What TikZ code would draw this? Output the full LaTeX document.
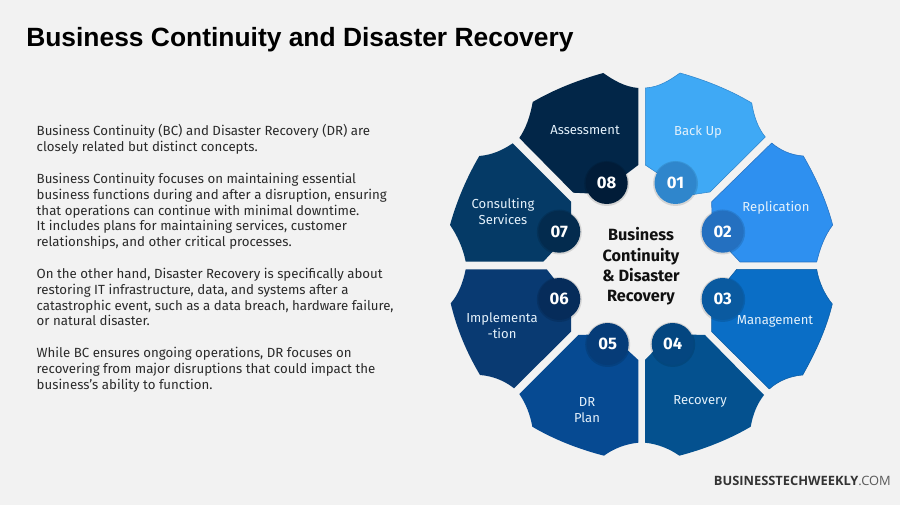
\documentclass[tikz,border=0pt]{standalone}
\usepackage{fontspec}
\setmainfont{Fira Sans}
\newfontfamily\titlefont{Liberation Sans}
\newfontfamily\brandfont{Open Sans}
\usepackage{xcolor}
\usetikzlibrary{calc}
\definecolor{bg}{HTML}{F2F2F2}
\definecolor{ink}{HTML}{111111}
\definecolor{bodyink}{HTML}{2A2A2A}
\definecolor{brandink}{HTML}{333333}
\definecolor{brandlight}{HTML}{5A5A5A}
\definecolor{labelink}{HTML}{E4F1FB}
\definecolor{petala}{HTML}{3FA9F5}
\definecolor{petalb}{HTML}{2E90F0}
\definecolor{petalc}{HTML}{0A6EC6}
\definecolor{petald}{HTML}{04518F}
\definecolor{petale}{HTML}{064A92}
\definecolor{petalf}{HTML}{093A72}
\definecolor{petalg}{HTML}{053A66}
\definecolor{petalh}{HTML}{022648}
\definecolor{dota}{HTML}{2F86CC}
\definecolor{dotb}{HTML}{2470C0}
\definecolor{dotc}{HTML}{0A5AA0}
\definecolor{dotd}{HTML}{044680}
\definecolor{dote}{HTML}{063C78}
\definecolor{dotf}{HTML}{062C5A}
\definecolor{dotg}{HTML}{032B4E}
\definecolor{doth}{HTML}{011C38}
\tikzset{
  petal/.style={line width=0.4pt, line join=round},
  dot/.style={circle, minimum size=42*0.75pt, inner sep=0pt, text=white, font=\fontsize{12.5}{14}\selectfont\bfseries},
  halo/.style={circle, fill=black, opacity=0.12, minimum size=45*0.75pt, inner sep=0pt},
  lab/.style={text=labelink, align=center, font=\fontsize{9.8}{11.8}\selectfont},
  hub/.style={text=ink, align=center, font=\fontsize{12.2}{15.35}\selectfont\bfseries},
  para/.style={text=bodyink, align=left, anchor=north west, font=\fontsize{9.95}{11.87}\selectfont},
}
\begin{document}
\begin{tikzpicture}[x=0.75pt,y=-0.75pt]
  \fill[bg] (0,0) rectangle (900,505);
  \useasboundingbox (0,0) rectangle (900,505);
  \node[text=black, anchor=west, inner sep=0pt, font=\titlefont\fontsize{19.8}{24}\selectfont\bfseries] (title) at (26,39.5) {Business Continuity and Disaster Recovery};
  \node[para] (intro) at (32,120) {Business Continuity (BC) and Disaster Recovery (DR) are\\closely related but distinct concepts.\\[\baselineskip]
    Business Continuity focuses on maintaining essential\\business functions during and after a disruption, ensuring\\that operations can continue with minimal downtime.\\It includes plans for maintaining services, customer\\relationships, and other critical processes.\\[\baselineskip]
    On the other hand, Disaster Recovery is specifically about\\restoring IT infrastructure, data, and systems after a\\catastrophic event, such as a data breach, hardware failure,\\or natural disaster.\\[\baselineskip]
    While BC ensures ongoing operations, DR focuses on\\recovering from major disruptions that could impact the\\business's ability to function.};
  % petals, clockwise from the top
  \draw[petal, fill=petala, draw=dota] (645.3,88) .. controls (660,87) and (670,80) .. (680,73) .. controls (705,80) and (730,90) .. (751.7,103) .. controls (754,117) and (758,128) .. (765.3,137) -- (710,192) -- (690,195) -- (645.3,165) -- cycle;
  \draw[petal, fill=petalb, draw=dotb] (771.7,143) .. controls (780,150) and (790,155) .. (803.3,156) .. controls (816,178) and (826,200) .. (832.7,225) .. controls (825,235) and (820,248) .. (816.7,262) -- (740,262) -- (712,232) -- (711.7,201.7) -- cycle;
  \draw[petal, fill=petalc, draw=dotc] (736.7,269.3) -- (816.7,269.3) .. controls (819,283) and (825,295) .. (832.3,304) .. controls (826,330) and (815,353) .. (802.7,375) .. controls (790,376) and (778,381) .. (769.3,389) -- (711.7,331.7) -- (711.7,300) -- cycle;
  \fill[petal, petald] (645,360) -- (645,442.7) .. controls (658,444) and (670,449) .. (679.3,455.7) .. controls (705,449) and (730,439) .. (750.7,426.7) .. controls (753,414) and (757,404) .. (764,395) -- (705,335) -- (670,334) -- cycle;
  \fill[petal, petale] (638.3,360) -- (638.3,442.7) .. controls (625,444) and (613,449) .. (604,455.7) .. controls (578,449) and (553,439) .. (532.3,426.7) .. controls (530,414) and (526,404) .. (519.3,394) -- (578.3,335) -- (610,334) -- cycle;
  \fill[petal, petalf] (465.7,269.3) -- (546.7,269.3) -- (571,300) -- (571,331.7) -- (514,388.3) .. controls (505,381) and (493,376) .. (480,375) .. controls (467,353) and (457,330) .. (450.7,303.3) .. controls (458,295) and (463,283) .. (465.7,269.3) -- cycle;
  \fill[petal, petalg] (512.7,143.3) -- (571,201.7) -- (571,232) -- (543.3,261.7) -- (465.7,261.7) .. controls (463,248) and (457,235) .. (450,225) .. controls (457,200) and (467,177) .. (479.3,156) .. controls (492,155) and (503,150) .. (512.7,143.3) -- cycle;
  \fill[petal, petalh] (638.3,88) .. controls (625,87) and (613,80) .. (603.3,73) .. controls (578,80) and (553,90) .. (532.7,102) .. controls (530,117) and (526,128) .. (519.3,138) -- (573.3,192.7) -- (600,194) -- (638.3,165) -- cycle;
  % number discs
  \node[halo] at (675.5,183.5) {}; \node[dot, fill=dota] (d01) at (675.5,183) {01};
  \node[halo] at (722.7,232) {}; \node[dot, fill=dotb] (d02) at (722.7,231.7) {02};
  \node[halo] at (722.7,299.5) {}; \node[dot, fill=dotc] (d03) at (722.7,299) {03};
  \node[halo] at (672.7,344.5) {}; \node[dot, fill=dotd] (d04) at (672.7,344) {04};
  \node[halo] at (607.7,344.5) {}; \node[dot, fill=dote] (d05) at (607.7,344) {05};
  \node[halo] at (559.3,299.5) {}; \node[dot, fill=dotf] (d06) at (559.3,299) {06};
  \node[halo] at (559.3,232) {}; \node[dot, fill=dotg] (d07) at (559.3,231.7) {07};
  \node[halo] at (606.7,183.5) {}; \node[dot, fill=doth] (d08) at (606.7,183) {08};
  % labels
  \node[lab] (backup) at (698,131.5) {Back Up};
  \node[lab] (replication) at (776,207.5) {Replication};
  \node[lab] (management) at (775,321.5) {Management};
  \node[lab] (recovery) at (700,401.5) {Recovery};
  \node[lab] (drplan) at (587,410) {DR\\Plan};
  \node[lab] (implementation) at (502,325.5) {Implementa\\-tion};
  \node[lab] (consulting) at (503,211.5) {Consulting\\Services};
  \node[lab] (assessment) at (585,130) {Assessment};
  \node[hub] (centre) at (641,266.5) {Business\\Continuity\\\& Disaster\\Recovery};
  \node[anchor=east, inner sep=0pt, text=brandink, font=\brandfont\fontsize{9.65}{12}\selectfont] (brand) at (891,481) {\textbf{BUSINESSTECHWEEKLY}\textcolor{brandlight}{.COM}};
\end{tikzpicture}
\end{document}
